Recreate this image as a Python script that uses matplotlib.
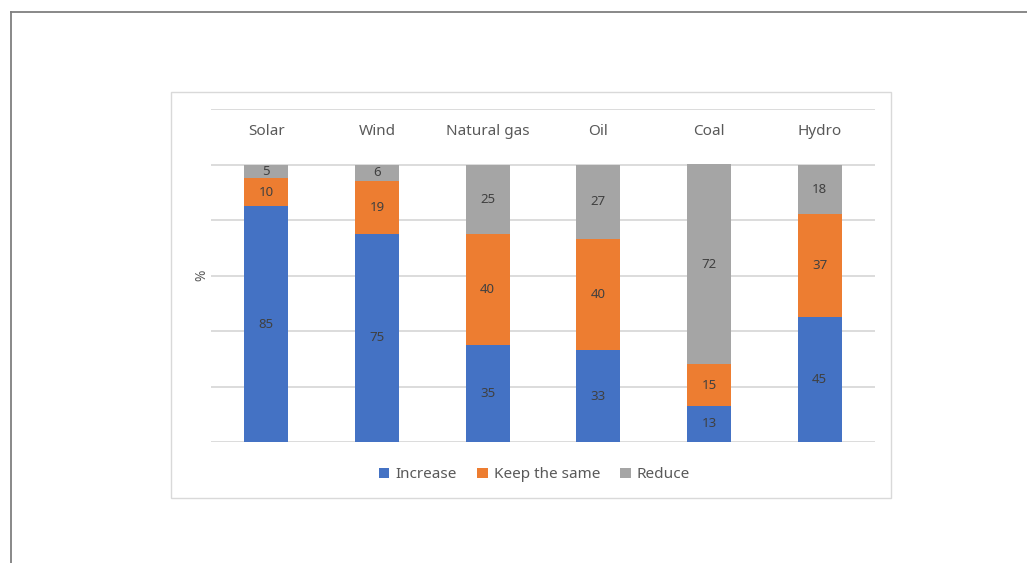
import matplotlib
matplotlib.use('Agg')
import matplotlib.pyplot as plt
from matplotlib.patches import Rectangle
from matplotlib.lines import Line2D
import numpy as np

plt.rcParams['font.family'] = ['Noto Sans', 'DejaVu Sans']

categories = ['Solar', 'Wind', 'Natural gas', 'Oil', 'Coal', 'Hydro']
increase = [85, 75, 35, 33, 13, 45]
keep_same = [10, 19, 40, 40, 15, 37]
reduce = [5, 6, 25, 27, 72, 18]
series_names = ['Increase', 'Keep the same', 'Reduce']
colors = ['#4472C4', '#ED7D31', '#A5A5A5']

fig = plt.figure(figsize=(10.27, 5.63), dpi=100)

# outer frame (top and left edges only)
fig.add_artist(Line2D([11 / 1027, 1], [1 - 12 / 563, 1 - 12 / 563],
                      transform=fig.transFigure, color='#7f7f7f', lw=1.3))
fig.add_artist(Line2D([11 / 1027, 11 / 1027], [0, 1 - 12 / 563],
                      transform=fig.transFigure, color='#7f7f7f', lw=1.3))

# chart box
fig.add_artist(Rectangle((171 / 1027, 1 - 498 / 563), 720 / 1027, 406 / 563,
                         transform=fig.transFigure, fill=False,
                         edgecolor='#d9d9d9', lw=1.0))

ax = fig.add_axes([211 / 1027, 1 - 442 / 563, 664 / 1027, 333 / 563])
x = np.arange(len(categories))
width = 0.4
bottom = np.zeros(len(categories))
for vals, name, col in zip([increase, keep_same, reduce], series_names, colors):
    bars = ax.bar(x, vals, width, bottom=bottom, color=col, label=name, zorder=3)
    for xi, b, v in zip(x, bottom, vals):
        ax.text(xi, b + v / 2, str(v), ha='center', va='center',
                fontsize=9.5, color='#404040', zorder=4)
    bottom += np.array(vals)

for xi, c in zip(x, categories):
    ax.text(xi, 112, c, ha='center', va='center', fontsize=11, color='#595959')

ax.set_xlim(-0.5, len(categories) - 0.5)
ax.set_ylim(0, 120)
ax.set_yticks(np.arange(0, 121, 20))
ax.yaxis.grid(True, color='#d9d9d9', lw=1.3, zorder=0)
ax.set_yticklabels([])
ax.set_xticks([])
ax.tick_params(axis='y', length=0)
for s in ax.spines.values():
    s.set_visible(False)
ax.set_ylabel('%', fontsize=10, color='#595959', labelpad=-2)

ax.legend(loc='upper center', bbox_to_anchor=(0.487, -0.035), ncol=3, frameon=False,
          fontsize=11, handlelength=0.7, handleheight=0.7, handletextpad=0.4,
          columnspacing=1.3, labelcolor='#595959')

fig.savefig('out.png', dpi=100)
